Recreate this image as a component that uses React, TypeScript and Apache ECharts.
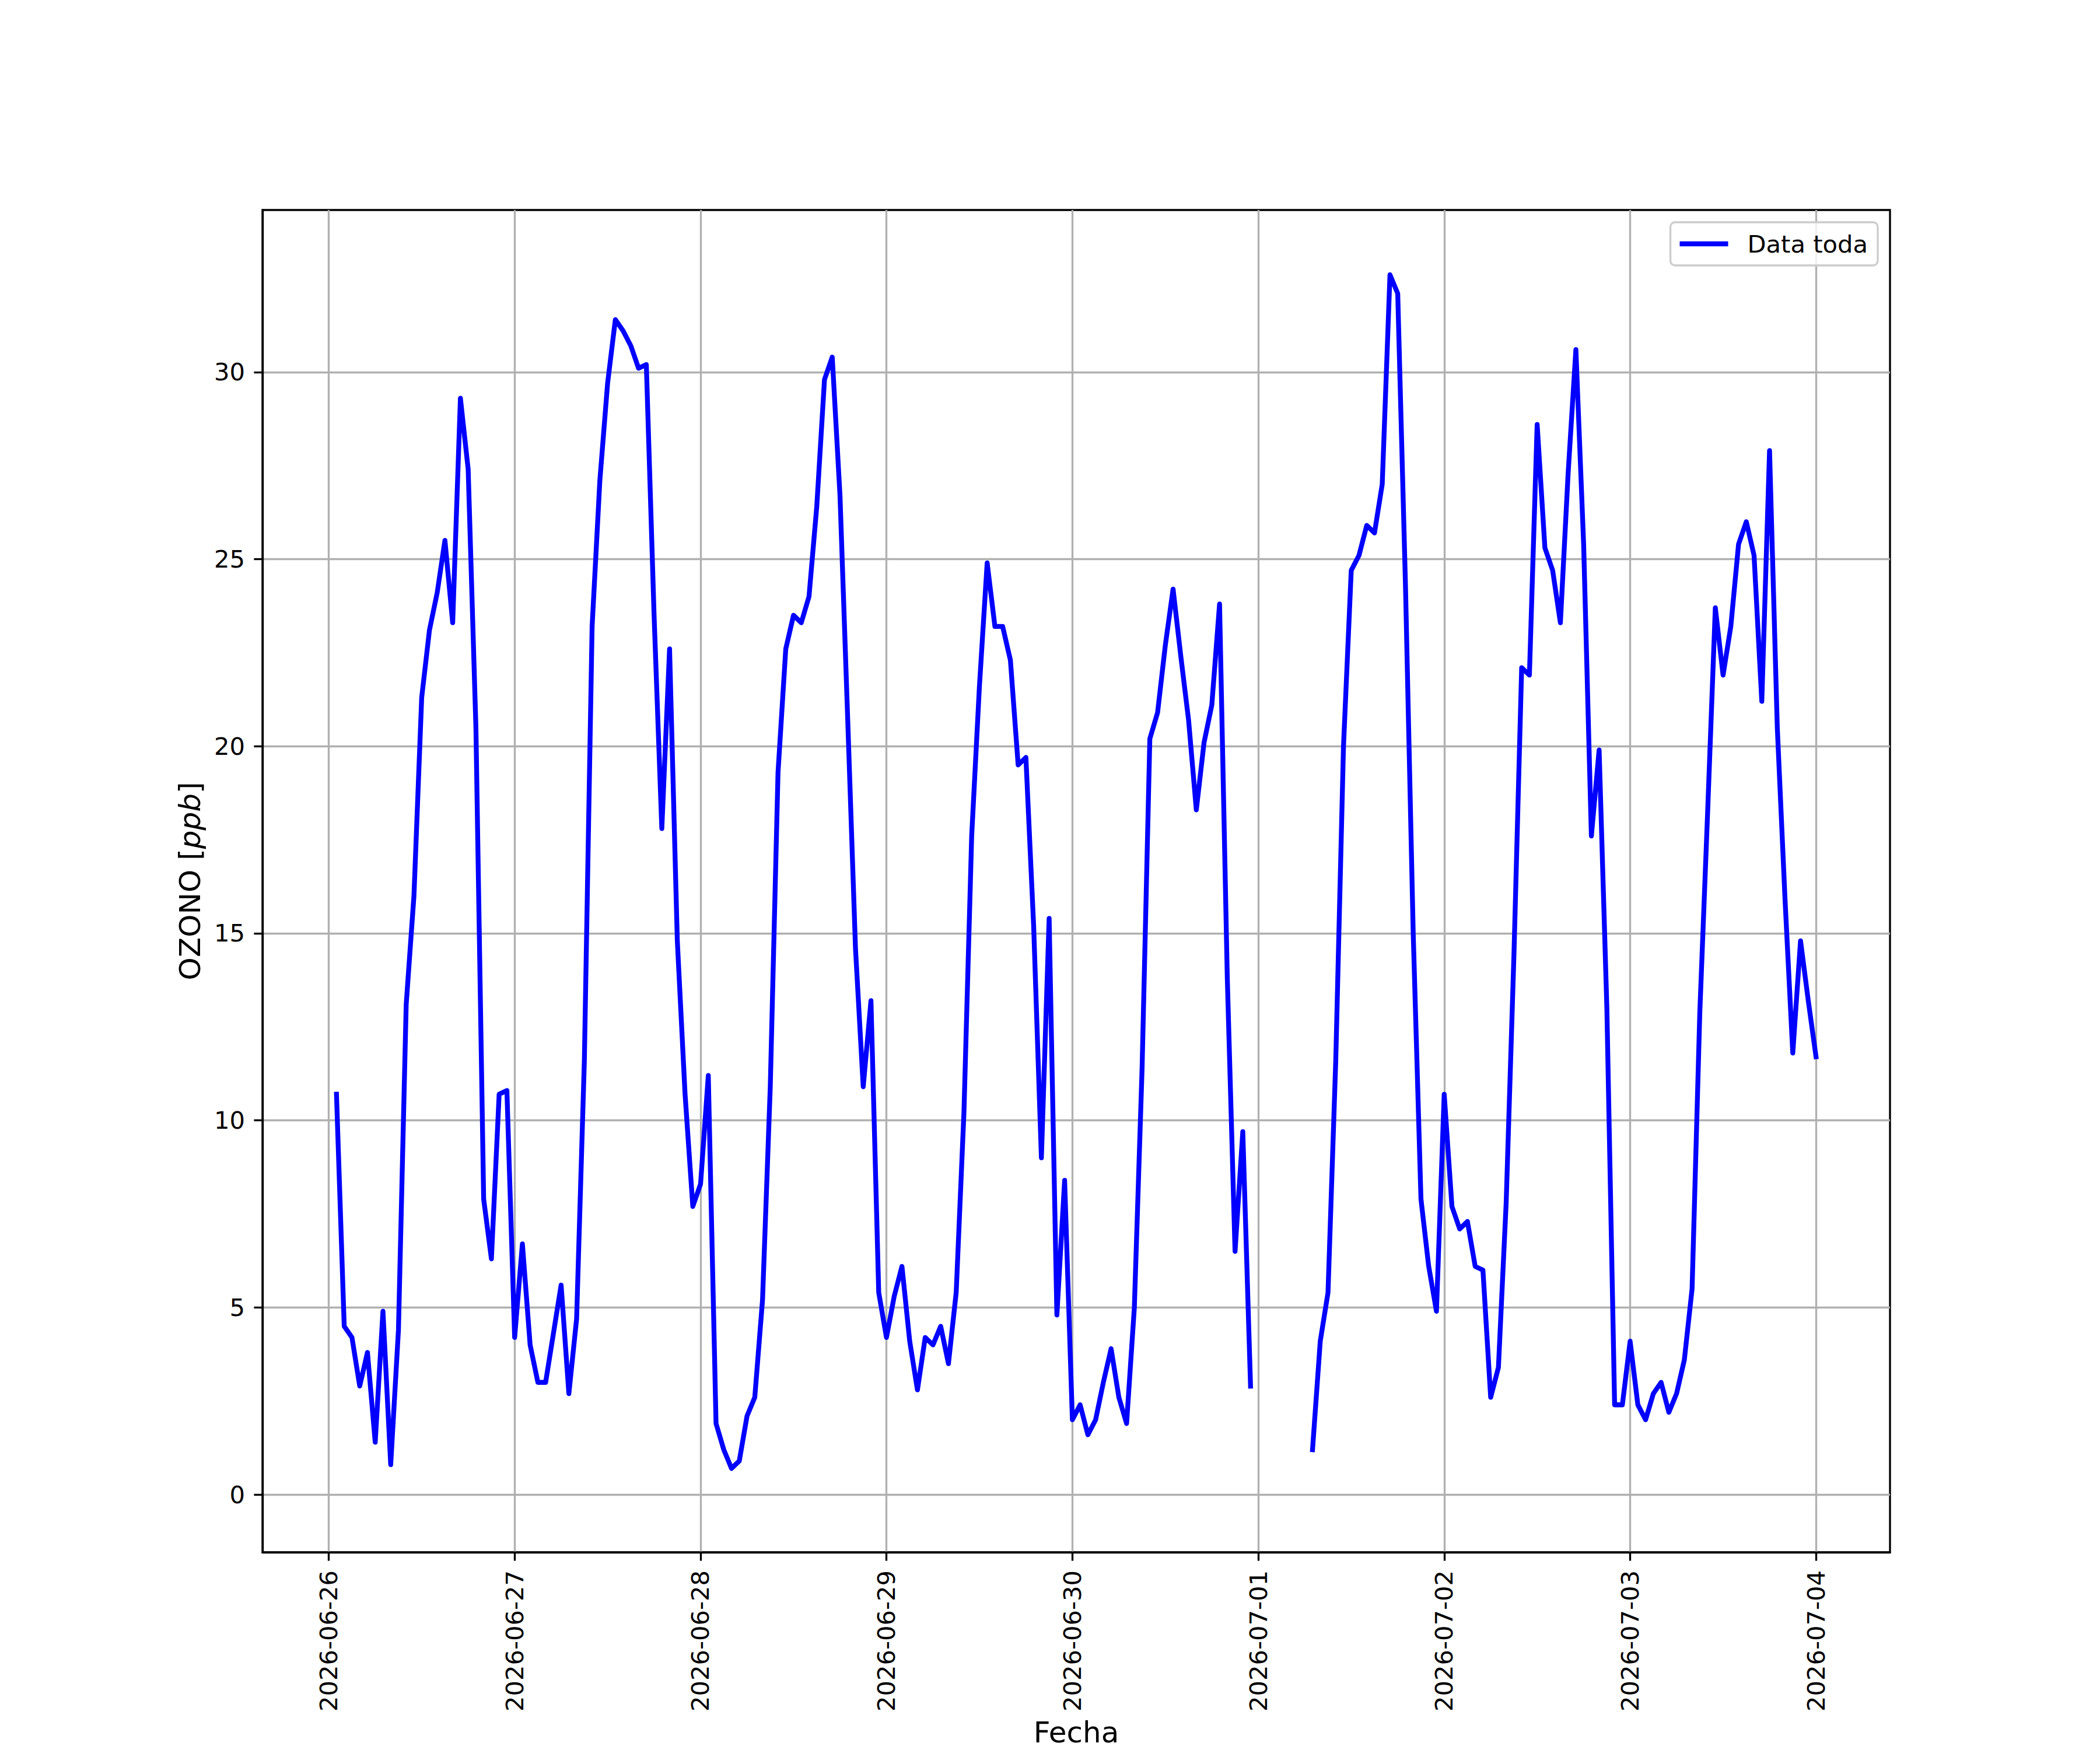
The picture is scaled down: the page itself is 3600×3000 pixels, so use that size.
import React, { useEffect, useRef } from "react";
import * as echarts from "echarts";

// ---- data (hourly ozone, ppb), first sample 2026-06-26 01:00 ----
const seriesName = "Data toda";
const xAxisTitle = "Fecha";
const firstSampleHour = 1; // hours after 2026-06-26 00:00

const ozoneJun26 = [10.7, 4.5, 4.2, 2.9, 3.8, 1.4, 4.9, 0.8, 4.4, 13.1, 16.0, 21.3, 23.1, 24.1, 25.5, 23.3, 29.3, 27.4, 20.5, 7.9, 6.3, 10.7, 10.8, 4.2];
const ozoneJun27 = [6.7, 4.0, 3.0, 3.0, 4.3, 5.6, 2.7, 4.7, 11.6, 23.2, 27.1, 29.7, 31.4, 31.1, 30.7, 30.1, 30.2, 23.5, 17.8, 22.6, 14.8, 10.7, 7.7, 8.3];
const ozoneJun28 = [11.2, 1.9, 1.2, 0.7, 0.9, 2.1, 2.6, 5.2, 10.9, 19.3, 22.6, 23.5, 23.3, 24.0, 26.4, 29.8, 30.4, 26.7, 20.7, 14.6, 10.9, 13.2, 5.4, 4.2];
const ozoneJun29 = [5.3, 6.1, 4.1, 2.8, 4.2, 4.0, 4.5, 3.5, 5.4, 10.2, 17.6, 21.6, 24.9, 23.2, 23.2, 22.3, 19.5, 19.7, 15.2, 9.0, 15.4, 4.8, 8.4, 2.0];
const ozoneJun30 = [2.4, 1.6, 2.0, 3.0, 3.9, 2.6, 1.9, 5.0, 11.4, 20.2, 20.9, 22.7, 24.2, 22.4, 20.7, 18.3, 20.1, 21.1, 23.8, 13.8, 6.5, 9.7, 2.9, null];
const ozoneJul01 = [null, null, null, null, null, null, 1.2, 4.1, 5.4, 11.6, 20.0, 24.7, 25.1, 25.9, 25.7, 27.0, 32.6, 32.1, 24.3, 15.0, 7.9, 6.1, 4.9, 10.7];
const ozoneJul02 = [7.7, 7.1, 7.3, 6.1, 6.0, 2.6, 3.4, 7.8, 14.4, 22.1, 21.9, 28.6, 25.3, 24.7, 23.3, 27.3, 30.6, 25.4, 17.6, 19.9, 13.0, 2.4, 2.4, 4.1];
const ozoneJul03 = [2.4, 2.0, 2.7, 3.0, 2.2, 2.7, 3.6, 5.5, 12.9, 18.2, 23.7, 21.9, 23.2, 25.4, 26.0, 25.1, 21.2, 27.9, 20.5, 15.9, 11.8, 14.8, 13.2, 11.7];

const dayTickHours = [0, 24, 48, 72, 96, 120, 144, 168, 192];
const dayTickLabels = ["2026-06-26", "2026-06-27", "2026-06-28", "2026-06-29", "2026-06-30", "2026-07-01", "2026-07-02", "2026-07-03", "2026-07-04"];
const yTickValues = [0, 5, 10, 15, 20, 25, 30];

const xMin = -8.55;
const xMax = 201.55;
const yMin = -1.54;
const yMax = 34.33;

const FONT = "DejaVu Sans";
const FS = 41.67;
const FS_TITLE = 50;
const LW = 3.33;
const SERIES_LW = 8.3;

export default function App() {
  const ref = useRef<HTMLDivElement>(null);

  useEffect(() => {
    if (!ref.current) return;
    const chart = echarts.init(ref.current, undefined, { renderer: "svg" });

    const ozone = [
      ...ozoneJun26, ...ozoneJun27, ...ozoneJun28, ...ozoneJun29,
      ...ozoneJun30, ...ozoneJul01, ...ozoneJul02, ...ozoneJul03,
    ];
    const points = ozone.map((v, i) => [firstSampleHour + i, v === null ? "-" : v]);

    const labelStyle = { fontSize: FS, fontFamily: FONT, color: "#000" };
    const titleStyle = { fontSize: FS_TITLE, fontFamily: FONT, color: "#000" };

    chart.setOption({
      animation: false,
      backgroundColor: "#ffffff",
      textStyle: { fontFamily: FONT },
      grid: {
        left: 450,
        right: 360,
        top: 360,
        bottom: 330,
        show: true,
        borderColor: "#000",
        borderWidth: LW,
        backgroundColor: "transparent",
      },
      legend: {
        show: true,
        right: 381,
        top: 381,
        orient: "vertical",
        padding: [16, 17, 16, 16],
        itemWidth: 83,
        itemHeight: SERIES_LW,
        itemGap: 0,
        borderColor: "#cccccc",
        borderWidth: LW,
        borderRadius: 8,
        backgroundColor: "rgba(255,255,255,0.8)",
        data: [{ name: seriesName, icon: "rect" }],
        textStyle: { ...labelStyle, padding: [0, 0, 0, 28] },
      },
      xAxis: {
        type: "value",
        min: xMin,
        max: xMax,
        name: xAxisTitle,
        nameLocation: "middle",
        nameGap: 284,
        nameTextStyle: titleStyle,
        axisLine: { show: true, onZero: false, lineStyle: { color: "#000", width: LW } },
        axisTick: {
          show: true,
          customValues: dayTickHours,
          length: 14.6,
          lineStyle: { color: "#000", width: LW },
        },
        axisLabel: {
          customValues: dayTickHours,
          rotate: 90,
          margin: 31,
          ...labelStyle,
          formatter: (v: number) => {
            const i = dayTickHours.indexOf(v);
            return i >= 0 ? dayTickLabels[i] : "";
          },
        },
        splitLine: { show: true, lineStyle: { color: "#b0b0b0", width: LW } },
      },
      yAxis: {
        type: "value",
        min: yMin,
        max: yMax,
        name: "{n|OZONO [}{i|ppb}{n|]}",
        nameLocation: "middle",
        nameGap: 99,
        nameRotate: 90,
        nameTextStyle: {
          ...titleStyle,
          rich: {
            n: { ...titleStyle },
            i: { ...titleStyle, fontStyle: "italic" },
          },
        },
        axisLine: { show: true, onZero: false, lineStyle: { color: "#000", width: LW } },
        axisTick: {
          show: true,
          customValues: yTickValues,
          length: 14.6,
          lineStyle: { color: "#000", width: LW },
        },
        axisLabel: {
          customValues: yTickValues,
          margin: 30,
          ...labelStyle,
          formatter: (v: number) => String(v),
        },
        splitLine: { show: true, lineStyle: { color: "#b0b0b0", width: LW } },
      },
      series: [
        {
          name: seriesName,
          type: "line",
          data: points,
          symbol: "none",
          showSymbol: false,
          connectNulls: false,
          color: "#0000ff",
          lineStyle: { color: "#0000ff", width: SERIES_LW, cap: "square", join: "round" },
          itemStyle: { color: "#0000ff" },
        },
      ],
    });

    return () => chart.dispose();
  }, []);

  return (
    <div
      ref={ref}
      style={{ position: "absolute", left: 0, top: 0, width: 3600, height: 3000, background: "#fff" }}
    />
  );
}
